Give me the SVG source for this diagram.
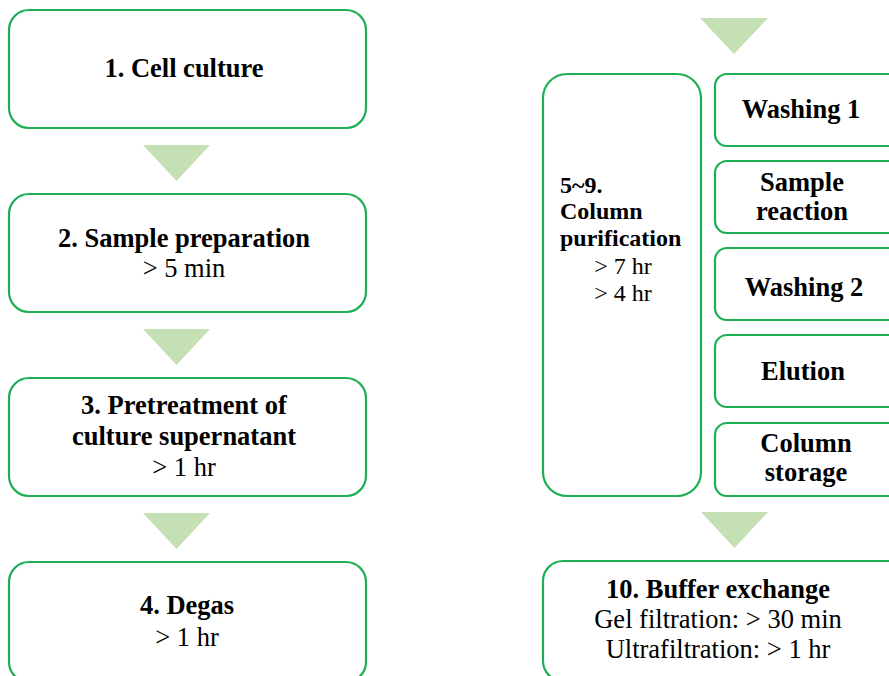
<svg xmlns="http://www.w3.org/2000/svg" width="889" height="676" viewBox="0 0 889 676">
<style>
.box{fill:#fff;stroke:#1db053;stroke-width:2.2}
.tri{fill:#c5e0b4}
text{font-family:"Liberation Serif","Times New Roman",serif;font-size:26.5px;fill:#000}
.s{font-size:24px}
.b{font-weight:bold}
.c{text-anchor:middle}
</style>
<rect width="889" height="676" fill="#fff"/>
<g id="connectors">
<polygon class="tri" points="143,145 210,145 176.5,181"/>
<polygon class="tri" points="143,329 210,329 176.5,365"/>
<polygon class="tri" points="143,513 210,513 176.5,549"/>
<polygon class="tri" points="700,18 768,18 734,54"/>
<polygon class="tri" points="701,512 768,512 734.5,548"/>
</g>
<g id="n1"><rect class="box" x="9" y="10" width="357" height="118" rx="20"/>
<text class="b c" x="184" y="77">1. Cell culture</text></g>
<g id="n2"><rect class="box" x="9" y="194" width="357" height="118" rx="20"/>
<text class="b c" x="184" y="247">2. Sample preparation</text>
<text class="c" x="184" y="277">&gt; 5 min</text></g>
<g id="n3"><rect class="box" x="9" y="378" width="357" height="118" rx="20"/>
<text class="b c" x="184" y="414">3. Pretreatment of</text>
<text class="b c" x="184" y="445">culture supernatant</text>
<text class="c" x="184" y="476">&gt; 1 hr</text></g>
<g id="n4"><rect class="box" x="9" y="562" width="357" height="120" rx="20"/>
<text class="b c" x="187" y="614">4. Degas</text>
<text class="c" x="187" y="646">&gt; 1 hr</text></g>
<g id="n5"><rect class="box" x="543" y="74" width="158" height="422" rx="24"/>
<text class="b s" x="560" y="193">5~9.</text>
<text class="b s" x="560" y="219">Column</text>
<text class="b s" x="560" y="246">purification</text>
<text class="c s" x="623" y="274">&gt; 7 hr</text>
<text class="c s" x="623" y="301">&gt; 4 hr</text></g>
<g id="w1"><rect class="box" x="715" y="74" width="190" height="72" rx="12"/>
<text class="b c" x="801" y="118">Washing 1</text></g>
<g id="sr"><rect class="box" x="715" y="161" width="190" height="72" rx="12"/>
<text class="b c" x="802" y="191">Sample</text>
<text class="b c" x="802" y="220">reaction</text></g>
<g id="w2"><rect class="box" x="715" y="248" width="190" height="72" rx="12"/>
<text class="b c" x="804" y="296">Washing 2</text></g>
<g id="el"><rect class="box" x="715" y="335" width="190" height="72" rx="12"/>
<text class="b c" x="803" y="380">Elution</text></g>
<g id="cs"><rect class="box" x="715" y="423" width="190" height="73" rx="12"/>
<text class="b c" x="806" y="452">Column</text>
<text class="b c" x="806" y="481">storage</text></g>
<g id="n10"><rect class="box" x="543" y="561" width="370" height="120" rx="20"/>
<text class="b c" x="718" y="598">10. Buffer exchange</text>
<text class="c" x="718" y="628">Gel filtration: &gt; 30 min</text>
<text class="c" x="718" y="658">Ultrafiltration: &gt; 1 hr</text></g>
</svg>
